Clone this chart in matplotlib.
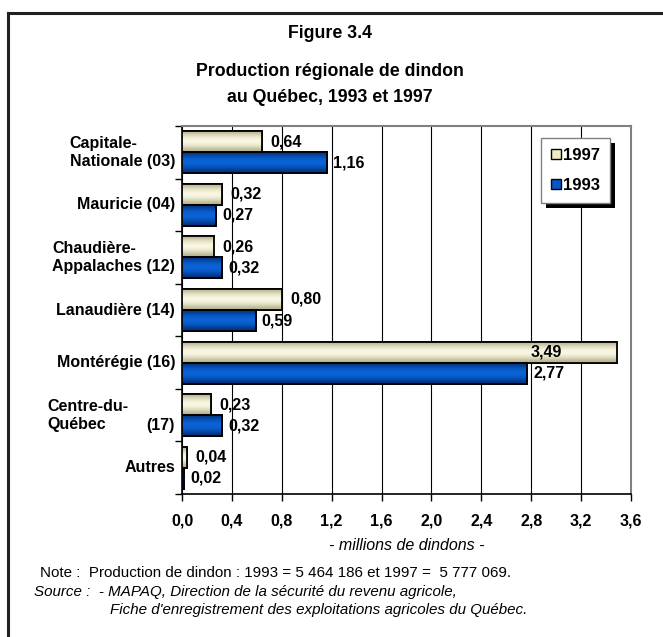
import matplotlib
matplotlib.use("Agg")
import matplotlib.pyplot as plt
import numpy as np
from matplotlib.patches import Rectangle, Patch
from matplotlib.lines import Line2D
from matplotlib.colors import to_rgb
from matplotlib.transforms import IdentityTransform

plt.rcParams['font.family'] = ['Liberation Sans', 'DejaVu Sans']

categories = ["Capitale-\nNationale (03)", "Mauricie (04)", "Chaudière-\nAppalaches (12)",
              "Lanaudière (14)", "Montérégie (16)", "Centre-du-\nQuébec\t(17)", "Autres"]
v1997 = [0.64, 0.32, 0.26, 0.80, 3.49, 0.23, 0.04]
v1993 = [1.16, 0.27, 0.32, 0.59, 2.77, 0.32, 0.02]
lab1997 = ["0,64", "0,32", "0,26", "0,80", "3,49", "0,23", "0,04"]
lab1993 = ["1,16", "0,27", "0,32", "0,59", "2,77", "0,32", "0,02"]
xticks = [0.0, 0.4, 0.8, 1.2, 1.6, 2.0, 2.4, 2.8, 3.2, 3.6]
xticklabels = ["0,0", "0,4", "0,8", "1,2", "1,6", "2,0", "2,4", "2,8", "3,2", "3,6"]
series_names = ["1997", "1993"]

c1997 = "#EEEAC2"
c1993 = "#0657C6"
FS = 11.5

W, H = 663, 637
fig = plt.figure(figsize=(W / 100, H / 100), dpi=100)
L, R, T, B = 182, 631, 126, 494
ax = fig.add_axes([L / W, 1 - B / H, (R - L) / W, (B - T) / H])

n = len(categories)
y = np.arange(n)
bh = 0.4
b1 = ax.barh(y - bh / 2, v1997, height=bh, color=c1997, edgecolor="black", linewidth=1.3, zorder=3)
b2 = ax.barh(y + bh / 2, v1993, height=bh, color=c1993, edgecolor="black", linewidth=1.3, zorder=3)

def shade(bars, dark, light):
    grad = np.array([0, 0.5, 0.85, 1.0, 0.85, 0.5, 0.0])
    d = np.array(to_rgb(dark)); l = np.array(to_rgb(light))
    img = (d[None, :] * (1 - grad[:, None]) + l[None, :] * grad[:, None])[:, None, :]
    for b in bars:
        x0, y0 = b.get_x(), b.get_y()
        w, h = b.get_width(), b.get_height()
        im = ax.imshow(img, extent=[x0, x0 + w, y0 + h, y0], aspect="auto",
                       interpolation="bicubic", zorder=3.5)
        im.set_clip_path(b)
        ax.add_patch(Rectangle((x0, y0), w, h, fill=False, edgecolor="black", linewidth=1.3, zorder=4))

shade(b1, "#B5B08A", "#FCFBE6")
shade(b2, "#02307A", "#0A66DC")

ax.set_xlim(0, 3.6)
ax.set_ylim(n - 0.5, -0.5)

# data labels
for i in range(n):
    if v1997[i] > 3.0:
        ax.annotate(lab1997[i], (v1997[i], y[i] - bh / 2), xytext=(-40, 0), textcoords="offset points",
                    ha="right", va="center", fontsize=FS, fontweight="bold", zorder=6)
    else:
        ax.annotate(lab1997[i], (v1997[i], y[i] - bh / 2), xytext=(6, 0), textcoords="offset points",
                    ha="left", va="center", fontsize=FS, fontweight="bold", zorder=6)
    ax.annotate(lab1993[i], (v1993[i], y[i] + bh / 2), xytext=(4.5, 0), textcoords="offset points",
                ha="left", va="center", fontsize=FS, fontweight="bold", zorder=6)

ax.set_xticks(xticks)
ax.set_xticklabels(xticklabels, fontsize=FS, fontweight="bold")
ax.xaxis.grid(True, color="black", linewidth=0.8, zorder=0)
ax.set_axisbelow(True)
ax.tick_params(axis="x", direction="out", length=5, width=1, pad=9)
ax.set_yticks(np.arange(n + 1) - 0.5)
ax.set_yticklabels([])
ax.tick_params(axis="y", direction="out", length=5, width=1)

px = 3.6 / (R - L)  # data units per pixel
lab_x = -7 * px
for i, c in enumerate(categories):
    if "\t" in c:
        left, right = c.split("\t")
        ax.text(-135 * px, y[i], left, ha="left", va="center", multialignment="left",
                fontsize=FS, fontweight="bold", linespacing=1.25)
        ax.text(lab_x, y[i] + 0.2, right, ha="right", va="center", fontsize=FS, fontweight="bold")
    else:
        ax.text(lab_x, y[i], c, ha="right", va="center", multialignment="left",
                fontsize=FS, fontweight="bold", linespacing=1.25)

for s in ["top", "right"]:
    ax.spines[s].set_color("#808080")
    ax.spines[s].set_linewidth(1.5)
for s in ["left", "bottom"]:
    ax.spines[s].set_color("black")
    ax.spines[s].set_linewidth(1.2)

ax.set_xlabel("- millions de dindons -", fontsize=FS, style="italic", labelpad=7)

# legend
handles = [Patch(facecolor=c1997, edgecolor="black"), Patch(facecolor=c1993, edgecolor="black")]
leg = ax.legend(handles, series_names, loc="upper right",
                bbox_to_anchor=((610 - L) / (R - L), 1 - (138 - T) / (B - T)),
                prop={"weight": "bold", "size": 12}, frameon=True, fancybox=False, edgecolor="#808080",
                facecolor="white", framealpha=1,
                handlelength=0.6, handleheight=0.6, handletextpad=0.15, labelspacing=0.9,
                borderpad=0.6, borderaxespad=0)
leg.get_frame().set_linewidth(1)
leg.set_zorder(10)
fig.canvas.draw()
lb = leg.get_window_extent()
shadow = Rectangle((lb.x0 + 5, lb.y0 - 5), lb.width, lb.height, transform=IdentityTransform(),
                   facecolor="black", edgecolor="none", zorder=9, clip_on=False)
ax.add_artist(shadow)

# titles
cx = 330 / W
fig.text(cx, 1 - 33 / H, "Figure 3.4", ha="center", va="center", fontsize=12.8, fontweight="bold")
fig.text(cx, 1 - 72 / H, "Production régionale de dindon", ha="center", va="center", fontsize=12.8, fontweight="bold")
fig.text(cx, 1 - 97 / H, "au Québec, 1993 et 1997", ha="center", va="center", fontsize=12.8, fontweight="bold")

# footnotes
fig.text(40 / W, 1 - 573 / H, "Note :  Production de dindon : 1993 = 5 464 186 et 1997 =  5 777 069.", ha="left", va="center", fontsize=10.9)
fig.text(34 / W, 1 - 592 / H, "Source :  - MAPAQ, Direction de la sécurité du revenu agricole,", ha="left", va="center", fontsize=10.9, style="italic")
fig.text(110 / W, 1 - 610 / H, "Fiche d'enregistrement des exploitations agricoles du Québec.", ha="left", va="center", fontsize=10.9, style="italic")

# outer frame
fig.add_artist(Line2D([8 / W, 1.01], [1 - 13 / H, 1 - 13 / H], transform=fig.transFigure, color="#202020", linewidth=2.2))
fig.add_artist(Line2D([8 / W, 8 / W], [1 - 13 / H, -0.01], transform=fig.transFigure, color="#202020", linewidth=2.2))

fig.savefig("out.png", dpi=100)
